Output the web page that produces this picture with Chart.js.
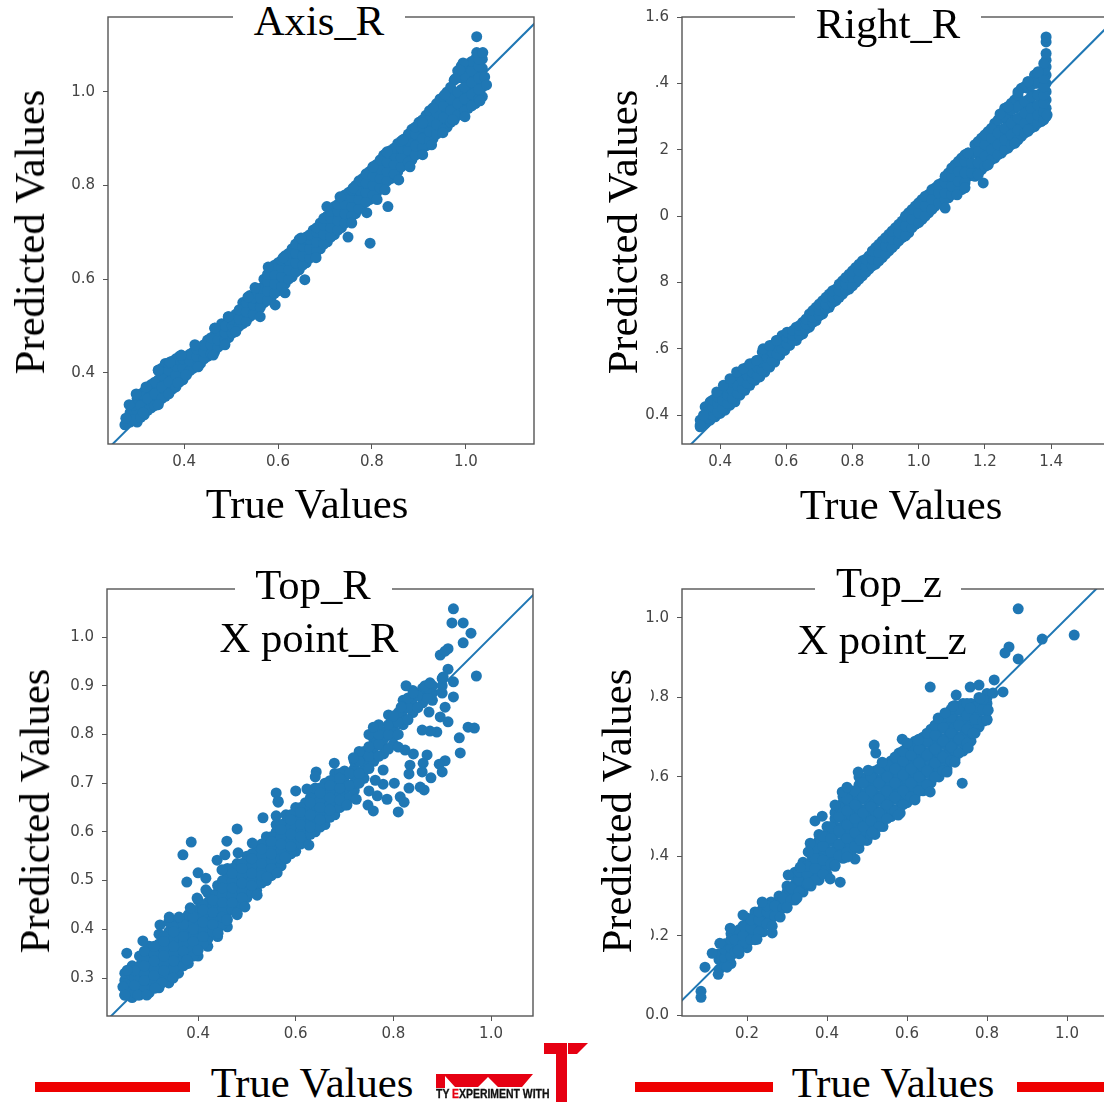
<!DOCTYPE html>
<html><head><meta charset="utf-8">
<style>
html,body{margin:0;padding:0;background:#fff;width:1104px;height:1102px;overflow:hidden}
#page{position:relative;width:1104px;height:1102px;overflow:hidden}
canvas{position:absolute}
.t{position:absolute;font-family:"Liberation Serif",serif;font-size:42.67px;line-height:46px;color:#000;white-space:nowrap;transform:translate(-50%,-50%)}
.r{transform:translate(-50%,-50%) rotate(-90deg)}
.w{position:absolute;background:#fff}
.red{position:absolute;background:#ee0000}
</style>
<script src="https://cdn.jsdelivr.net/npm/chart.js@4"></script>
</head><body><div id="page"></div>
<script>
// Values. Dense clouds: each row is [true value, predicted values...]
const axisRXTicks=[0.4,0.6,0.8,1.0], axisRYTicks=[0.4,0.6,0.8,1.0];
const rightRXTicks=[0.4,0.6,0.8,1.0,1.2,1.4], rightRYTicks=[0.4,0.6,0.8,1.0,1.2,1.4,1.6];
const topRXTicks=[0.4,0.6,0.8,1.0], topRYTicks=[0.3,0.4,0.5,0.6,0.7,0.8,0.9,1.0];
const topZXTicks=[0.2,0.4,0.6,0.8,1.0], topZYTicks=[0.0,0.2,0.4,0.6,0.8,1.0];

const axisRCloud=[[.285,.295,.315],[.30,.295,.32,.345],[.315,.31,.335,.36],[.33,.325,.35,.375],[.345,.335,.36,.385,.405],[.36,.35,.375,.40,.42],[.375,.365,.39,.41,.425],[.39,.38,.40,.42,.435],[.405,.395,.415,.435],[.42,.41,.43,.445],[.435,.42,.44,.455],[.45,.435,.45,.47],[.465,.445,.46,.48,.495],[.48,.46,.475,.495,.505],[.495,.475,.49,.51,.52],[.51,.49,.505,.525],[.525,.505,.52,.54,.55],[.54,.52,.535,.555,.565],[.555,.53,.55,.57,.58],[.57,.55,.565,.585,.60],[.585,.56,.58,.60,.625],[.60,.575,.595,.615,.635],[.615,.59,.61,.63,.65],[.63,.605,.625,.645,.665],[.645,.62,.64,.66,.685],[.66,.635,.655,.675,.69],[.675,.65,.67,.69,.705],[.69,.665,.685,.705,.72],[.705,.68,.70,.72,.735],[.72,.695,.715,.735,.755],[.735,.71,.73,.75,.77],[.75,.725,.745,.765,.785],[.765,.74,.76,.78,.80],[.78,.76,.775,.795,.815],[.795,.77,.79,.81,.83],[.81,.785,.805,.825,.845],[.825,.80,.82,.84,.865],[.84,.815,.835,.855,.875],[.855,.83,.85,.87,.89],[.87,.845,.865,.885,.90],[.885,.855,.88,.90,.92],[.90,.87,.89,.915,.935],[.915,.885,.905,.93,.95],[.93,.90,.92,.945,.965],[.945,.915,.94,.96,.985],[.96,.925,.95,.975,1.0],[.975,.94,.965,.99,1.025],[.99,.955,.98,1.005,1.03,1.055],[1.005,.965,.99,1.015,1.04,1.06],[1.02,.975,1.0,1.025,1.05,1.07],[1.035,.99,1.01,1.03,1.05,1.07]];
const axisRFill=[[.2925,.30,.33],[.3075,.305,.33,.355],[.3225,.32,.345,.37],[.3375,.33,.355,.38],[.3525,.345,.37,.395,.41],[.3675,.355,.38,.405,.42],[.3825,.37,.395,.415,.43],[.3975,.385,.41,.43],[.4125,.405,.425,.44],[.4275,.415,.435,.45],[.4425,.43,.445,.46],[.4575,.44,.46,.475],[.4725,.455,.47,.49],[.4875,.47,.485,.50],[.5025,.485,.50,.515],[.5175,.50,.515,.535],[.5325,.51,.53,.55],[.5475,.525,.545,.56],[.5625,.54,.56,.58],[.5775,.555,.575,.595,.61],[.5925,.57,.59,.61,.63],[.6075,.585,.605,.625,.64],[.6225,.60,.62,.64,.655],[.6375,.615,.635,.655,.675],[.6525,.63,.65,.67,.685],[.6675,.645,.665,.685,.695],[.6825,.66,.68,.70,.71],[.6975,.675,.695,.715,.73],[.7125,.69,.71,.73,.745],[.7275,.705,.725,.745,.76],[.7425,.72,.74,.76,.78],[.7575,.735,.755,.775,.79],[.7725,.75,.77,.79,.81],[.7875,.765,.785,.805,.825],[.8025,.78,.80,.82,.84],[.8175,.795,.815,.835,.855],[.8325,.81,.83,.85,.87],[.8475,.825,.845,.865,.88],[.8625,.84,.86,.88,.895],[.8775,.85,.875,.895,.91],[.8925,.865,.885,.91,.925],[.9075,.88,.90,.925,.94],[.9225,.895,.915,.94,.96],[.9375,.91,.93,.955,.975],[.9525,.92,.945,.97,.99],[.9675,.935,.96,.985,1.01],[.9825,.95,.975,1.0,1.03,1.045],[.9975,.96,.985,1.01,1.035,1.055],[1.0125,.97,.995,1.02,1.045,1.065],[1.0275,.985,1.005,1.03,1.055,1.07]];
const axisROutliers=[[.274,.289],[.276,.303],[.283,.332],[.298,.355],[.313,.315],[.345,.332],[.319,.37],[.345,.406],[.37,.423],[.387,.379],[.404,.396],[.394,.438],[.43,.413],[.423,.46],[.462,.438],[.466,.496],[.487,.46],[.494,.52],[.51,.488],[.536,.562],[.562,.52],[.551,.582],[.579,.626],[.594,.545],[.615,.571],[.657,.599],[.611,.646],[.649,.688],[.681,.646],[1.023,1.118],[1.023,1.084],[1.036,1.084],[.994,1.062],[.987,1.047],[.977,1.028],[1.04,1.032],[1.044,1.015],[1.03,.981],[.998,.947],[.955,.994],[.93,.966],[.972,.941],[.951,.913],[.908,.934],[.927,.887],[.866,.898],[.908,.866],[.832,.872],[.802,.84],[.881,.84],[.857,.812],[.76,.795],[.828,.791],[.811,.77],[.834,.755],[.789,.742],[.704,.755],[.732,.776],[.757,.72],[.749,.69],[.796,.677]];

const rightRCloud=[[.34,.365,.385],[.355,.375,.40,.425],[.37,.385,.41,.44],[.385,.395,.42,.45],[.40,.405,.43,.46],[.415,.415,.44,.475],[.43,.43,.455,.49],[.445,.44,.47,.505],[.46,.46,.485,.515],[.475,.475,.50,.53],[.49,.49,.515,.54],[.505,.505,.525,.55],[.52,.515,.54,.56],[.535,.53,.555,.59],[.55,.545,.57,.60],[.565,.56,.585,.615],[.58,.58,.60,.625],[.595,.595,.615,.635],[.61,.61,.63,.645],[.63,.625,.645,.665],[.65,.645,.665,.68],[.67,.665,.685,.705],[.69,.685,.705,.725],[.71,.705,.725,.745],[.73,.725,.745,.765],[.75,.745,.765,.78],[.77,.765,.785,.805],[.79,.78,.805,.825],[.81,.80,.825,.845],[.83,.82,.845,.865],[.85,.84,.86,.88],[.87,.855,.88,.905],[.89,.875,.90,.925],[.91,.895,.92,.945],[.93,.915,.94,.965],[.95,.935,.96,.985],[.97,.95,.98,1.01],[.99,.975,1.0,1.03],[1.01,.99,1.02,1.05],[1.03,1.01,1.04,1.065],[1.05,1.03,1.06,1.085],[1.07,1.05,1.08,1.10],[1.09,1.055,1.085,1.115,1.13],[1.11,1.07,1.10,1.13,1.155],[1.13,1.08,1.11,1.14,1.175],[1.15,1.12,1.15,1.19],[1.17,1.12,1.155,1.19,1.215],[1.19,1.14,1.17,1.205,1.235],[1.21,1.16,1.19,1.225,1.255],[1.23,1.175,1.21,1.245,1.28],[1.25,1.19,1.225,1.26,1.295],[1.27,1.205,1.24,1.275,1.31,1.33],[1.29,1.22,1.255,1.29,1.325,1.35],[1.31,1.24,1.27,1.30,1.335,1.385],[1.33,1.255,1.285,1.315,1.35,1.385,1.405],[1.35,1.27,1.30,1.33,1.365,1.40,1.425],[1.37,1.285,1.31,1.34,1.37,1.40,1.43],[1.385,1.30,1.325,1.35,1.375,1.40,1.425,1.45,1.47,1.49,1.525,1.54]];
const rightRFill=[[.3625,.39,.41],[.3775,.40,.425,.445],[.3925,.41,.435,.455],[.4075,.42,.445,.47],[.4225,.435,.46,.485],[.4375,.45,.475,.50],[.4525,.465,.49,.52],[.4675,.48,.505,.53],[.4825,.495,.52,.545],[.4975,.51,.53,.555],[.5125,.52,.545,.565],[.5275,.535,.56,.59],[.5425,.55,.575,.60],[.5575,.565,.59,.61],[.5725,.585,.605,.625],[.5875,.60,.62,.64],[.6025,.615,.635,.65],[.62,.625,.64,.655],[.64,.64,.655,.67],[.66,.66,.675,.69],[.68,.68,.695,.715],[.70,.70,.715,.735],[.72,.72,.735,.755],[.74,.74,.755,.775],[.76,.755,.775,.795],[.78,.775,.795,.815],[.80,.79,.815,.835],[.82,.81,.835,.855],[.84,.83,.85,.87],[.86,.85,.87,.895],[.88,.865,.89,.915],[.90,.885,.91,.935],[.92,.905,.93,.955],[.94,.925,.95,.975],[.96,.94,.97,1.0],[.98,.965,.99,1.02],[1.0,.98,1.01,1.04],[1.02,1.0,1.03,1.06],[1.04,1.02,1.05,1.08],[1.06,1.04,1.07,1.095],[1.08,1.05,1.07,1.10,1.12],[1.10,1.065,1.09,1.12,1.145],[1.12,1.075,1.105,1.135,1.165],[1.14,1.10,1.13,1.165,1.185],[1.16,1.13,1.16,1.19],[1.18,1.13,1.16,1.195,1.225],[1.20,1.15,1.18,1.215,1.245],[1.22,1.17,1.20,1.235,1.265],[1.24,1.185,1.215,1.25,1.29],[1.26,1.20,1.23,1.265,1.30,1.325],[1.28,1.215,1.245,1.28,1.32,1.34],[1.30,1.23,1.26,1.295,1.33,1.365],[1.32,1.25,1.28,1.31,1.345,1.39],[1.34,1.265,1.295,1.325,1.36,1.395],[1.36,1.28,1.305,1.335,1.365,1.40,1.43],[1.378,1.29,1.315,1.34,1.365,1.39,1.415,1.44,1.46]];
const rightROutliers=[[1.361,1.435],[1.331,1.405],[1.30,1.374],[1.388,1.305],[1.331,1.26],[1.246,1.308],[1.27,1.329],[1.291,1.22],[1.149,1.19],[1.195,1.10],[1.18,1.125],[1.21,1.154],[1.14,1.085],[1.116,1.064],[1.08,1.024],[.34,.37],[.35,.40],[.39,.47],[.41,.49],[.43,.51],[.45,.53],[.47,.54],[.49,.555],[.51,.565],[.53,.60],[.55,.61],[.57,.625]];

const topRCloud=[[.25,.265,.28,.295,.31],[.265,.26,.275,.29,.305,.325],[.28,.265,.28,.295,.31,.325,.345],[.30,.27,.285,.30,.315,.33,.35,.365],[.32,.28,.295,.31,.325,.34,.355,.37,.39],[.34,.29,.305,.32,.335,.35,.365,.38,.395,.415],[.36,.31,.325,.34,.355,.37,.385,.40,.42],[.38,.33,.345,.36,.375,.39,.405,.42,.43],[.40,.345,.36,.375,.39,.405,.42,.44,.46],[.42,.365,.38,.395,.41,.425,.44,.455,.475],[.44,.385,.40,.415,.43,.445,.46,.475,.49],[.46,.405,.42,.435,.45,.465,.48,.495,.51,.525],[.48,.43,.445,.46,.475,.49,.505,.52,.535],[.50,.465,.48,.495,.51,.525,.54,.55],[.52,.48,.495,.51,.525,.54,.555,.57],[.54,.50,.515,.53,.545,.56,.575,.59],[.56,.52,.535,.55,.565,.58,.60,.615],[.58,.545,.56,.575,.59,.605,.62,.635],[.60,.56,.575,.59,.605,.62,.635,.65],[.62,.585,.60,.615,.63,.645,.66],[.64,.60,.615,.63,.645,.66,.675,.69],[.66,.615,.63,.645,.66,.67,.685,.70],[.68,.635,.65,.665,.68,.695,.71,.72],[.70,.655,.67,.685,.70,.715,.725],[.72,.685,.70,.715,.73,.745],[.74,.71,.725,.74,.755,.765],[.76,.745,.76,.775,.79],[.78,.76,.775,.79,.805],[.80,.78,.795,.81,.825],[.82,.82,.835,.85,.87],[.84,.845,.86,.875,.89],[.86,.865,.88,.895],[.88,.87,.885,.90],[.90,.885,.90,.915]];
const topRFill=[[.27,.27,.30],[.29,.28,.31,.34],[.31,.29,.32,.35],[.33,.30,.33,.36,.385],[.35,.32,.35,.38,.405],[.37,.34,.37,.40],[.39,.36,.385,.41],[.41,.37,.40,.43,.45],[.43,.395,.42,.45,.47],[.45,.41,.44,.47,.50],[.47,.44,.47,.50,.525],[.49,.45,.48,.51,.535],[.51,.475,.50,.53,.555],[.53,.495,.52,.55,.575],[.55,.51,.54,.565,.59],[.57,.53,.56,.59,.615],[.59,.555,.58,.61,.635],[.61,.575,.60,.625,.65],[.63,.595,.62,.65,.67],[.65,.61,.635,.665,.69],[.67,.63,.655,.68,.705],[.69,.65,.675,.70,.72],[.71,.67,.695,.72],[.73,.70,.72,.745,.765],[.75,.73,.755,.775,.80],[.77,.755,.78,.80,.82],[.79,.77,.80,.82,.84],[.81,.80,.825,.845],[.83,.83,.855,.875],[.85,.855,.88],[.87,.875,.895]];
const topRFillExtra=[[.27,.285,.315],[.29,.295,.325,.355],[.31,.305,.335,.365],[.33,.315,.345,.375],[.35,.335,.365,.395],[.37,.325,.355,.385,.41],[.39,.345,.375,.40,.425],[.41,.385,.415,.44],[.43,.41,.435,.46],[.45,.425,.455,.485],[.47,.455,.485,.515],[.49,.465,.495,.525],[.51,.49,.515,.545],[.53,.51,.535,.565],[.55,.525,.555,.58],[.57,.545,.575,.605],[.59,.57,.595,.625],[.61,.59,.615,.64],[.63,.61,.635,.66],[.65,.625,.65,.68],[.67,.645,.67,.695],[.69,.665,.69,.71]];
const topROutliers=[[.923,1.058],[.92,1.029],[.943,1.029],[.959,1.008],[.943,.988],[.912,.976],[.896,.963],[.906,.971],[.912,.934],[.97,.92],[.902,.918],[.923,.908],[.826,.90],[.923,.877],[.906,.856],[.896,.836],[.912,.826],[.953,.815],[.966,.813],[.889,.805],[.875,.807],[.859,.809],[.873,.846],[.935,.793],[.937,.762],[.906,.746],[.894,.739],[.90,.723],[.869,.758],[.861,.741],[.834,.737],[.832,.719],[.859,.723],[.877,.711],[.855,.692],[.863,.686],[.832,.69],[.814,.672],[.822,.661],[.81,.641],[.787,.667],[.802,.70],[.779,.698],[.763,.706],[.75,.684],[.767,.674],[.748,.655],[.759,.643],[.724,.667],[.705,.655],[.779,.727],[.841,.76],[.824,.768],[.81,.774],[.759,.815],[.679,.741],[.718,.752],[.642,.723],[.64,.713],[.56,.68],[.564,.663],[.60,.684],[.623,.688],[.80,.838],[.816,.856],[.841,.885],[.865,.90],[.875,.906],[.254,.351],[.287,.376],[.255,.316],[.246,.282],[.25,.265],[.277,.265],[.322,.409],[.341,.425],[.361,.425],[.369,.553],[.386,.579],[.377,.497],[.40,.516],[.416,.505],[.416,.481],[.398,.464],[.384,.444],[.439,.542],[.455,.553],[.459,.581],[.48,.606],[.511,.577],[.482,.557],[.449,.522],[.533,.629],[.56,.633],[.564,.661],[.627,.573],[.578,.548],[.562,.516],[.541,.507],[.521,.47],[.496,.446],[.48,.433],[.459,.419],[.441,.392],[.40,.357],[.377,.337],[.349,.30],[.326,.29],[.312,.279],[.295,.265]];

const topZCloud=[[.13,.115,.14,.155],[.145,.125,.145,.165,.18],[.16,.13,.15,.17,.19,.205],[.18,.155,.175,.195,.215],[.20,.17,.19,.21,.23,.245],[.22,.19,.21,.23,.25,.26],[.24,.21,.23,.25,.27],[.26,.23,.25,.27,.285],[.28,.25,.27,.29,.30],[.30,.27,.29,.31,.325],[.32,.29,.31,.33,.35,.36],[.34,.31,.33,.35,.37,.385],[.36,.325,.345,.365,.385,.405,.425],[.38,.34,.36,.38,.40,.42,.44,.455],[.40,.355,.375,.395,.415,.435,.455,.475],[.42,.375,.395,.415,.435,.455,.475,.495,.51],[.44,.395,.415,.435,.455,.475,.495,.515,.535,.55],[.46,.405,.425,.445,.465,.485,.505,.525,.545,.565],[.48,.42,.44,.46,.48,.50,.52,.54,.56,.58,.60],[.50,.44,.46,.48,.50,.52,.54,.56,.58,.60],[.52,.455,.475,.495,.515,.535,.555,.575,.595,.615],[.54,.475,.495,.515,.535,.555,.575,.595,.615,.63],[.56,.50,.52,.54,.56,.58,.60,.62,.64],[.58,.52,.54,.56,.58,.60,.62,.64,.66],[.60,.535,.555,.575,.595,.615,.635,.655,.675],[.62,.55,.57,.59,.61,.63,.65,.67,.69],[.64,.565,.585,.605,.625,.645,.665,.685,.70],[.66,.585,.605,.625,.645,.665,.685,.705,.72],[.68,.60,.62,.64,.66,.68,.70,.72,.745],[.70,.62,.64,.66,.68,.70,.72,.74,.76],[.72,.645,.665,.685,.705,.725,.745,.765,.78],[.74,.665,.685,.705,.725,.745,.765,.785],[.76,.69,.71,.73,.75,.77,.785],[.78,.725,.745,.765,.785,.80],[.80,.745,.765,.785,.80,.81]];
const topZFill=[[.17,.16,.19],[.19,.18,.20,.225],[.21,.19,.22,.24],[.23,.21,.24,.26],[.25,.23,.26,.275],[.27,.25,.275],[.29,.27,.295],[.31,.29,.32],[.33,.31,.34,.36],[.35,.33,.355,.375],[.37,.34,.37,.395,.42],[.39,.355,.39,.425,.45],[.41,.38,.41,.445,.475],[.43,.40,.43,.465,.50,.525],[.45,.41,.445,.48,.515,.545],[.47,.425,.46,.495,.53,.565],[.49,.44,.475,.51,.55,.585],[.51,.455,.49,.525,.565,.60],[.53,.475,.51,.545,.585,.62],[.55,.495,.53,.565,.60,.63],[.57,.515,.55,.585,.62,.65],[.59,.53,.565,.605,.64,.665],[.61,.55,.585,.62,.655,.68],[.63,.565,.60,.635,.67,.695],[.65,.58,.615,.655,.69,.71],[.67,.60,.635,.67,.705,.73],[.69,.615,.65,.69,.725,.75],[.71,.64,.675,.71,.75,.77],[.73,.66,.695,.73,.77],[.75,.685,.72,.755,.785],[.77,.71,.745,.775],[.79,.74,.77,.795]];
const topZOutliers=[[.878,1.023],[.938,.947],[1.018,.957],[.855,.927],[.845,.912],[.878,.897],[.658,.826],[.758,.826],[.78,.831],[.818,.844],[.84,.814],[.815,.811],[.723,.806],[.715,.778],[.678,.748],[.695,.761],[.80,.743],[.803,.768],[.783,.798],[.758,.773],[.588,.695],[.60,.685],[.518,.68],[.522,.66],[.538,.637],[.478,.612],[.503,.617],[.438,.562],[.45,.574],[.42,.529],[.388,.501],[.37,.489],[.738,.584],[.753,.673],[.72,.637],[.70,.612],[.658,.562],[.62,.542],[.583,.509],[.628,.693],[.765,.71],[.085,.06],[.085,.045],[.095,.121],[.128,.103],[.113,.156],[.15,.121],[.132,.181],[.178,.164],[.158,.219],[.19,.252],[.225,.191],[.263,.207],[.263,.224],[.238,.285],[.283,.247],[.30,.272],[.303,.353],[.333,.373],[.325,.295],[.353,.332],[.408,.343],[.433,.335],[.358,.433],[.353,.411],[.47,.393],[.42,.378],[.45,.398],[.483,.441],[.513,.461],[.578,.504]];

const titleLabels=["Axis_R","Right_R","Top_R","Top_z"];
const subtitleLabels=["X point_R","X point_z"];
const xAxisLabel="True Values", yAxisLabel="Predicted Values";

const BLUE="#1f77b4", AXIS="#555555", TICK="#444444";
const PAD_L=60,PAD_T=22,PAD_R=12,PAD_B=40;
const page=document.getElementById('page');

function flatten(cloud,outliers){
  const pts=[];
  cloud.forEach(r=>{for(let i=1;i<r.length;i++)pts.push({x:r[0],y:r[i]});});
  outliers.forEach(p=>pts.push({x:p[0],y:p[1]}));
  return pts;
}
const frame={id:'frame',afterDatasetsDraw(c){
  const a=c.chartArea,x=c.ctx;x.save();x.strokeStyle=AXIS;x.lineWidth=1.4;
  x.strokeRect(a.left,a.top,a.right-a.left,a.bottom-a.top);x.restore();}};
function panel(o){
  const cv=document.createElement('canvas');
  const w=o.w+PAD_L+PAD_R,h=o.h+PAD_T+PAD_B;
  cv.width=w;cv.height=h;
  cv.style.cssText=`left:${o.l-PAD_L}px;top:${o.t-PAD_T}px;width:${w}px;height:${h}px`;
  page.appendChild(cv);
  const axis=(ticks,fit,pad)=>({type:'linear',min:0,max:1,
    afterBuildTicks(s){s.ticks=ticks.map(v=>({value:v}));},
    afterFit:fit,
    border:{display:false},
    grid:{display:true,drawOnChartArea:false,drawTicks:true,tickLength:5,color:AXIS,lineWidth:1},
    ticks:{font:{family:'"DejaVu Sans"',size:15},color:TICK,padding:pad,autoSkip:false,maxRotation:0,callback:v=>v.toFixed(1)}});
  const sx=axis(o.xTicks,s=>{s.height=PAD_B;},4);sx.min=o.xr[0];sx.max=o.xr[1];
  const sy=axis(o.yTicks,s=>{s.width=PAD_L;},8);sy.min=o.yr[0];sy.max=o.yr[1];
  new Chart(cv.getContext('2d'),{type:'scatter',
    data:{datasets:[
      {data:flatten(o.cloud,o.out),backgroundColor:BLUE,borderWidth:0,pointRadius:5.5,pointHoverRadius:5.5},
      {data:[{x:-1,y:-1},{x:2,y:2}],showLine:true,borderColor:BLUE,borderWidth:2,pointRadius:0}
    ]},
    plugins:[frame],
    options:{responsive:false,animation:false,events:[],
      layout:{padding:{left:0,top:PAD_T,right:PAD_R,bottom:0}},
      plugins:{legend:{display:false},tooltip:{enabled:false},title:{display:false}},
      scales:{x:sx,y:sy}}});
}
panel({l:108,t:17,w:426,h:427,xr:[.238,1.145],yr:[.248,1.16],xTicks:axisRXTicks,yTicks:axisRYTicks,cloud:axisRCloud.concat(axisRFill),out:axisROutliers});
panel({l:682,t:17,w:426,h:427,xr:[.285,1.572],yr:[.313,1.6],xTicks:rightRXTicks,yTicks:rightRYTicks,cloud:rightRCloud.concat(rightRFill),out:rightROutliers});
panel({l:107,t:589,w:426,h:427,xr:[.2135,1.086],yr:[.222,1.0986],xTicks:topRXTicks,yTicks:topRYTicks,cloud:topRCloud.concat(topRFill,topRFillExtra),out:topROutliers});
panel({l:682,t:589,w:426,h:427,xr:[.0375,1.1025],yr:[-.002,1.073],xTicks:topZXTicks,yTicks:topZYTicks,cloud:topZCloud.concat(topZFill),out:topZOutliers});

function box(l,t,w,h){const d=document.createElement('div');d.className='w';d.style.cssText=`left:${l}px;top:${t}px;width:${w}px;height:${h}px`;page.appendChild(d);}
function bar(l,t,w,h){const d=document.createElement('div');d.className='red';d.style.cssText=`left:${l}px;top:${t}px;width:${w}px;height:${h}px`;page.appendChild(d);}
function txt(s,x,y,rot){const d=document.createElement('div');d.className='t'+(rot?' r':'');d.textContent=s;d.style.left=x+'px';d.style.top=y+'px';page.appendChild(d);}

// white cut-outs the pasted labels leave on the axes
box(233,0,172,46);box(795,0,186,46);box(235,570,157,42);box(815,570,146,42);
box(170,466,320,60);
box(600,60,55,335);box(600,100,60,240);
box(600,650,51,310);

txt(titleLabels[0],319,21);txt(titleLabels[1],888,24);txt(titleLabels[2],313,585);txt(titleLabels[3],889,583);
txt(subtitleLabels[0],309,638);txt(subtitleLabels[1],882,640);
txt(yAxisLabel,30,232,true);txt(yAxisLabel,623,232,true);txt(yAxisLabel,35,811,true);txt(yAxisLabel,617,811,true);
txt(xAxisLabel,307,504);txt(xAxisLabel,901,505);txt(xAxisLabel,312,1083);txt(xAxisLabel,893,1083);

bar(35,1082,155,10);bar(635,1082,138,10);bar(1017,1082,87,10);

// logo fragment
const NS='http://www.w3.org/2000/svg';
const svg=document.createElementNS(NS,'svg');
svg.setAttribute('width','1104');svg.setAttribute('height','1102');
svg.style.cssText='position:absolute;left:0;top:0';
[[[544,1043],[556,1043],[556,1054],[544,1054]],
 [[556,1043],[567,1043],[567,1102],[556,1102]],
 [[568,1043],[588,1043],[577,1054],[568,1054]],
 [[436,1074],[533,1074],[522,1087],[498,1087],[488,1077],[478,1087],[455,1087],[445,1076],[445,1088],[436,1088]]
].forEach(p=>{const g=document.createElementNS(NS,'polygon');g.setAttribute('points',p.map(q=>q.join(',')).join(' '));g.setAttribute('fill','#e60012');svg.appendChild(g);});
page.appendChild(svg);
const lg=document.createElement('div');
lg.style.cssText='position:absolute;left:436px;top:1087px;font:bold 12px/14px "Liberation Sans",sans-serif;color:#111;white-space:nowrap;transform-origin:0 0;transform:scaleX(.87);-webkit-text-stroke:.3px #111';
lg.innerHTML='TY <span style="color:#e60012;-webkit-text-stroke:.3px #e60012">E</span>XPERIMENT WITH';
page.appendChild(lg);
</script></body></html>
